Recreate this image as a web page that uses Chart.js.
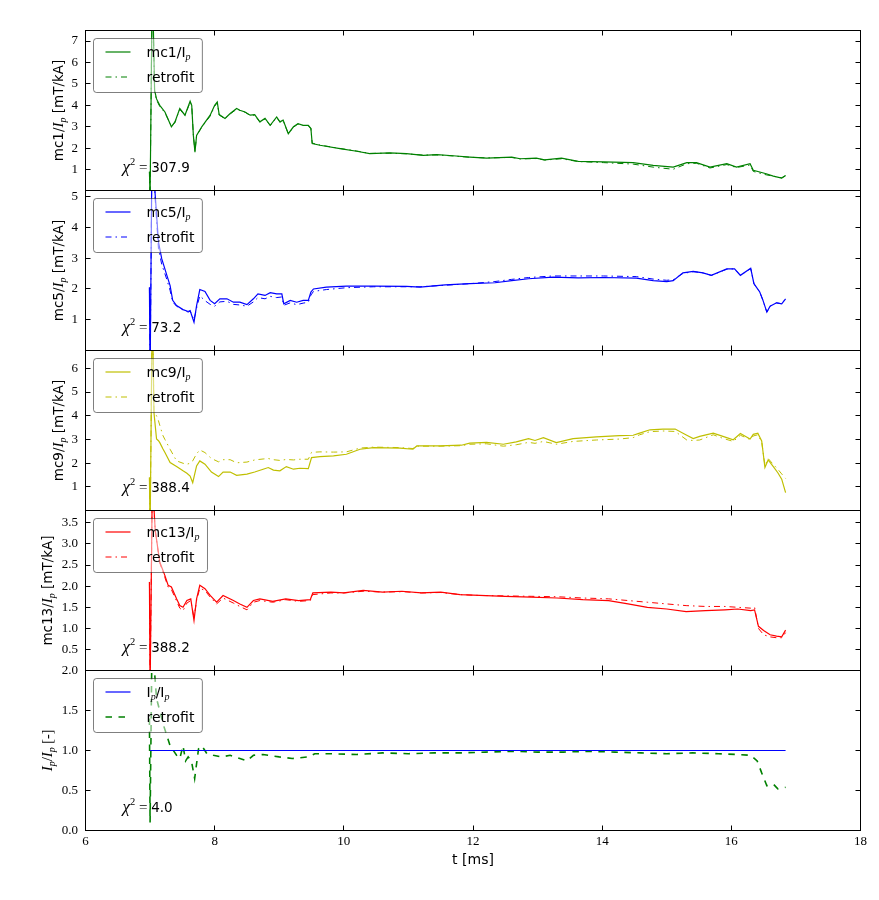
<!DOCTYPE html>
<html><head><meta charset="utf-8">
<script src="https://cdn.jsdelivr.net/npm/chart.js@4"></script>
<style>
html,body{margin:0;padding:0;background:#fff;}
body{width:879px;height:900px;position:relative;overflow:hidden;}
canvas{position:absolute;left:0;}
</style>
</head><body>
<canvas id="c0"></canvas><canvas id="c1"></canvas><canvas id="c2"></canvas><canvas id="c3"></canvas><canvas id="c4"></canvas>
<script>
// ---------------- DATA ----------------
const tTicks = [6, 8, 10, 12, 14, 16, 18];
const mc1Ticks = [1, 2, 3, 4, 5, 6, 7];
const mc5Ticks = [1, 2, 3, 4, 5];
const mc9Ticks = [1, 2, 3, 4, 5, 6];
const mc13Ticks = [0.5, 1.0, 1.5, 2.0, 2.5, 3.0, 3.5];
const ipTicks = [0.0, 0.5, 1.0, 1.5, 2.0];

const mc1T = [6.99, 7.00, 7.035, 7.07, 7.10, 7.15, 7.23, 7.33, 7.385, 7.46,
  7.54, 7.62, 7.645, 7.67, 7.695, 7.72, 7.80, 7.93, 8.00, 8.04,
  8.07, 8.16, 8.24, 8.34, 8.39, 8.47, 8.55, 8.62, 8.70, 8.78,
  8.86, 8.96, 9.01, 9.06, 9.14, 9.22, 9.29, 9.37, 9.45, 9.49,
  9.51, 9.63, 9.94, 10.20, 10.40, 10.71, 10.97, 11.23, 11.44, 11.69,
  11.95, 12.21, 12.60, 12.73, 12.98, 13.11, 13.37, 13.63, 14.02, 14.48,
  14.79, 15.10, 15.31, 15.46, 15.67, 15.93, 16.08, 16.29, 16.34, 16.54,
  16.65, 16.78, 16.84];
const mc1Meas = [0.9, -0.3, 10, 4.7, 4.3, 4.0, 3.69, 3.0, 3.23, 3.85,
  3.54, 4.19, 4.0, 2.6, 1.82, 2.6, 3.0, 3.54, 4.0, 4.16,
  3.57, 3.39, 3.62, 3.85, 3.77, 3.69, 3.54, 3.57, 3.23, 3.39,
  3.07, 3.46, 3.23, 3.31, 2.68, 3.0, 3.15, 3.07, 3.07, 2.92,
  2.22, 2.14, 1.98, 1.86, 1.75, 1.78, 1.75, 1.67, 1.70, 1.65,
  1.59, 1.54, 1.59, 1.51, 1.54, 1.46, 1.54, 1.39, 1.36, 1.33,
  1.20, 1.12, 1.33, 1.33, 1.12, 1.28, 1.12, 1.28, 0.97, 0.81,
  0.70, 0.61, 0.73];
const mc1Fit = [0.9, -0.3, 10, 4.6, 4.25, 3.95, 3.66, 3.02, 3.2, 3.82,
  3.52, 4.15, 3.98, 2.62, 1.86, 2.58, 2.98, 3.5, 3.96, 4.12,
  3.55, 3.38, 3.6, 3.82, 3.76, 3.68, 3.53, 3.55, 3.22, 3.37,
  3.06, 3.44, 3.22, 3.29, 2.68, 2.98, 3.13, 3.06, 3.05, 2.92,
  2.24, 2.15, 1.99, 1.87, 1.76, 1.77, 1.74, 1.68, 1.69, 1.64,
  1.58, 1.55, 1.57, 1.50, 1.52, 1.45, 1.51, 1.38, 1.33, 1.26,
  1.12, 1.02, 1.28, 1.30, 1.08, 1.24, 1.10, 1.22, 0.92, 0.76,
  0.70, 0.62, 0.72];

const mc5T = [6.99, 7.00, 7.035, 7.076, 7.13, 7.18, 7.26, 7.31, 7.35, 7.41,
  7.51, 7.59, 7.62, 7.68, 7.72, 7.77, 7.85, 7.93, 8.00, 8.08,
  8.19, 8.29, 8.39, 8.50, 8.60, 8.67, 8.78, 8.86, 8.96, 9.04,
  9.07, 9.17, 9.27, 9.37, 9.45, 9.49, 9.53, 9.73, 10.04, 10.46,
  10.97, 11.18, 11.57, 11.95, 12.34, 12.60, 12.86, 13.24, 13.63, 14.02,
  14.53, 14.79, 15.00, 15.10, 15.25, 15.41, 15.56, 15.69, 15.93, 16.05,
  16.14, 16.30, 16.35, 16.44, 16.49, 16.55, 16.60, 16.70, 16.78, 16.84];
const mc5Meas = [2.05, -1, 8, 5.14, 3.52, 2.98, 2.44, 2.11, 1.63, 1.46,
  1.33, 1.27, 1.30, 0.92, 1.46, 1.98, 1.92, 1.63, 1.52, 1.68,
  1.68, 1.57, 1.57, 1.49, 1.68, 1.84, 1.79, 1.88, 1.84, 1.84,
  1.52, 1.63, 1.57, 1.63, 1.63, 1.90, 2.00, 2.06, 2.09, 2.09,
  2.08, 2.06, 2.13, 2.17, 2.20, 2.27, 2.33, 2.38, 2.36, 2.37,
  2.35, 2.27, 2.24, 2.27, 2.52, 2.57, 2.52, 2.44, 2.65, 2.65,
  2.44, 2.67, 2.17, 1.90, 1.63, 1.25, 1.44, 1.55, 1.52, 1.68];
const mc5Fit = [2.05, -1, 8, 5.0, 3.3, 2.8, 2.3, 1.95, 1.58, 1.44,
  1.32, 1.25, 1.28, 1.0, 1.38, 1.78, 1.62, 1.50, 1.44, 1.58,
  1.60, 1.50, 1.48, 1.44, 1.58, 1.72, 1.68, 1.76, 1.72, 1.74,
  1.47, 1.55, 1.49, 1.54, 1.57, 1.80, 1.92, 1.98, 2.04, 2.07,
  2.07, 2.07, 2.12, 2.17, 2.24, 2.31, 2.37, 2.42, 2.42, 2.42,
  2.40, 2.32, 2.28, 2.30, 2.50, 2.56, 2.52, 2.44, 2.64, 2.65,
  2.44, 2.66, 2.17, 1.90, 1.63, 1.25, 1.44, 1.55, 1.52, 1.68];

const mc9T = [6.99, 7.00, 7.035, 7.06, 7.10, 7.13, 7.15, 7.20, 7.23, 7.31,
  7.41, 7.51, 7.57, 7.62, 7.66, 7.72, 7.77, 7.85, 7.95, 8.06,
  8.13, 8.24, 8.34, 8.50, 8.62, 8.75, 8.83, 8.91, 9.01, 9.11,
  9.22, 9.32, 9.45, 9.50, 9.63, 9.84, 10.04, 10.25, 10.46, 10.87,
  11.07, 11.13, 11.49, 11.82, 11.95, 12.21, 12.47, 12.67, 12.86, 12.96,
  13.09, 13.29, 13.55, 13.91, 14.27, 14.48, 14.58, 14.74, 14.94, 15.13,
  15.31, 15.41, 15.51, 15.72, 15.87, 16.03, 16.14, 16.29, 16.34, 16.41,
  16.47, 16.52, 16.57, 16.65, 16.72, 16.78, 16.84];
const mc9Meas = [1.4, -1, 9, 4.14, 3.02, 2.95, 2.87, 2.6, 2.45, 2.03,
  1.86, 1.68, 1.58, 1.46, 1.18, 1.89, 2.10, 1.96, 1.63, 1.44,
  1.63, 1.63, 1.49, 1.54, 1.63, 1.75, 1.82, 1.71, 1.68, 1.86,
  1.75, 1.79, 1.77, 2.24, 2.28, 2.31, 2.38, 2.59, 2.66, 2.64,
  2.59, 2.73, 2.73, 2.76, 2.85, 2.88, 2.80, 2.90, 3.04, 2.96,
  3.08, 2.87, 3.04, 3.11, 3.16, 3.18, 3.27, 3.41, 3.44, 3.44,
  3.18, 3.04, 3.13, 3.27, 3.13, 2.99, 3.25, 3.02, 3.22, 3.27,
  2.94, 1.82, 2.14, 1.86, 1.60, 1.33, 0.76];
const mc9Fit = [1.4, -1, 9, 4.2, 4.0, 3.79, 3.6, 3.16, 3.0, 2.59,
  2.10, 2.0, 1.96, 2.0, 2.10, 2.4, 2.56, 2.45, 2.2, 2.06,
  2.15, 2.15, 2.02, 2.05, 2.14, 2.18, 2.20, 2.15, 2.12, 2.16,
  2.14, 2.17, 2.17, 2.46, 2.48, 2.47, 2.48, 2.64, 2.68, 2.66,
  2.62, 2.72, 2.72, 2.74, 2.80, 2.82, 2.72, 2.78, 2.88, 2.84,
  2.92, 2.80, 2.92, 2.98, 3.02, 3.08, 3.20, 3.33, 3.36, 3.34,
  2.98, 2.96, 2.98, 3.20, 3.05, 2.92, 3.18, 3.0, 3.15, 3.2,
  2.9, 1.9, 2.2, 1.95, 1.75, 1.55, 1.36];

const mc13T = [6.99, 7.00, 7.035, 7.08, 7.15, 7.23, 7.28, 7.33, 7.41, 7.46,
  7.51, 7.57, 7.63, 7.68, 7.72, 7.77, 7.85, 7.93, 8.03, 8.13,
  8.29, 8.39, 8.50, 8.60, 8.70, 8.90, 9.10, 9.30, 9.48, 9.52,
  9.80, 10.00, 10.30, 10.60, 10.90, 11.20, 11.50, 11.80, 12.10, 12.50,
  12.90, 13.30, 13.70, 14.10, 14.40, 14.70, 15.00, 15.30, 15.60, 15.90,
  16.10, 16.30, 16.36, 16.42, 16.50, 16.60, 16.70, 16.78, 16.84];
const mc13Meas = [2.1, -0.5, 4.5, 3.32, 2.57, 2.25, 2.02, 1.98, 1.70, 1.54,
  1.50, 1.66, 1.70, 1.19, 1.70, 2.02, 1.94, 1.78, 1.62, 1.78,
  1.66, 1.58, 1.50, 1.66, 1.70, 1.64, 1.70, 1.66, 1.68, 1.84,
  1.86, 1.84, 1.90, 1.86, 1.88, 1.84, 1.86, 1.80, 1.78, 1.76,
  1.74, 1.72, 1.68, 1.66, 1.58, 1.50, 1.46, 1.40, 1.42, 1.44,
  1.46, 1.42, 1.44, 1.05, 0.95, 0.85, 0.82, 0.80, 0.96];
const mc13Fit = [2.1, -0.5, 4.5, 3.3, 2.55, 2.2, 1.98, 1.92, 1.65, 1.48,
  1.42, 1.60, 1.66, 1.25, 1.66, 1.95, 1.90, 1.74, 1.58, 1.72,
  1.60, 1.52, 1.44, 1.62, 1.66, 1.62, 1.68, 1.64, 1.66, 1.80,
  1.84, 1.84, 1.88, 1.86, 1.87, 1.84, 1.85, 1.80, 1.78, 1.77,
  1.76, 1.75, 1.72, 1.70, 1.66, 1.62, 1.58, 1.54, 1.52, 1.52,
  1.50, 1.48, 1.50, 1.00, 0.85, 0.80, 0.78, 0.78, 0.90];

const ipT = [7.00, 16.84];
const ipMeas = [1.0, 1.0];
const ipFitT = [6.99, 7.00, 7.03, 7.10, 7.21, 7.31, 7.41, 7.46, 7.51, 7.55,
  7.59, 7.64, 7.69, 7.75, 7.80, 7.88, 7.98, 8.11, 8.24, 8.39,
  8.50, 8.60, 8.75, 9.00, 9.20, 9.45, 9.55, 9.80, 10.20, 10.60,
  11.00, 11.40, 11.80, 12.20, 12.60, 13.00, 13.40, 13.80, 14.20, 14.60,
  15.00, 15.40, 15.80, 16.10, 16.30, 16.40, 16.47, 16.55, 16.65, 16.72,
  16.84];
const ipFit = [1.4, 0.1, 2.4, 1.65, 1.31, 1.06, 0.94, 0.90, 1.06, 0.87,
  0.92, 0.87, 0.65, 1.02, 1.06, 0.96, 0.94, 0.92, 0.94, 0.90,
  0.87, 0.94, 0.95, 0.92, 0.90, 0.92, 0.96, 0.96, 0.95, 0.97,
  0.96, 0.97, 0.97, 0.98, 0.99, 0.98, 0.98, 0.99, 0.98, 0.97,
  0.96, 0.97, 0.96, 0.95, 0.94, 0.87, 0.72, 0.56, 0.58, 0.52,
  0.54];

const chiValues = ['307.9', '73.2', '388.4', '388.2', '4.0'];

// ---------------- STYLE / LAYOUT ----------------
const SANS = '"DejaVu Sans", sans-serif';
const SERIF = '"Liberation Serif", "DejaVu Serif", serif';
const DASHDOT = [6, 4, 1.5, 4];
const DASHED = [6.5, 6.5];
const f = (sz, fam, st) => (st ? st + ' ' : '') + sz + 'px ' + fam;
const sub = t => ({t, f: f(10, SERIF, 'italic'), dy: 3});
const sans = (t, s) => ({t, f: f(s || 14, SANS)});
const mit = t => ({t, f: f(15, SERIF, 'italic')});

function ytitle(name) {
  return [sans(name + '/', 13.5), mit('I'), sub('p'), sans(' [mT/kA]', 13.5)];
}
function leg(name) { return [sans(name + '/I'), sub('p')]; }

const panels = [
  {series: [{t: mc1T, v: mc1Meas, c: '#008000', w: 1.2, d: []}, {t: mc1T, v: mc1Fit, c: '#008000', w: 1, d: DASHDOT}],
   min: 0.03, max: 7.49, ticks: mc1Ticks, dec: 0, legend: [leg('mc1'), [sans('retrofit')]], ytitle: ytitle('mc1'), yx: 57.5},
  {series: [{t: mc5T, v: mc5Meas, c: '#0000ff', w: 1.2, d: []}, {t: mc5T, v: mc5Fit, c: '#0000ff', w: 1, d: DASHDOT}],
   min: 0.005, max: 5.19, ticks: mc5Ticks, dec: 0, legend: [leg('mc5'), [sans('retrofit')]], ytitle: ytitle('mc5'), yx: 57.5},
  {series: [{t: mc9T, v: mc9Meas, c: '#bfbf00', w: 1.2, d: []}, {t: mc9T, v: mc9Fit, c: '#bfbf00', w: 1, d: DASHDOT}],
   min: 0.01, max: 6.75, ticks: mc9Ticks, dec: 0, legend: [leg('mc9'), [sans('retrofit')]], ytitle: ytitle('mc9'), yx: 57.5},
  {series: [{t: mc13T, v: mc13Meas, c: '#ff0000', w: 1.2, d: []}, {t: mc13T, v: mc13Fit, c: '#ff0000', w: 1, d: DASHDOT}],
   min: 0.005, max: 3.79, ticks: mc13Ticks, dec: 1, legend: [leg('mc13'), [sans('retrofit')]], ytitle: ytitle('mc13'), yx: 47},
  {series: [{t: ipT, v: ipMeas, c: '#0000ff', w: 1.2, d: []}, {t: ipFitT, v: ipFit, c: '#008000', w: 1.6, d: DASHED}],
   min: 0, max: 2, ticks: ipTicks, dec: 1,
   legend: [[sans('I'), sub('p'), sans('/I'), sub('p')], [sans('retrofit')]],
   ytitle: [mit('I'), sub('p'), {t: '/', f: f(15, SERIF)}, mit('I'), sub('p'), {t: ' [-]', f: f(14, SERIF)}], yx: 47}
];

function richW(ctx, segs) { let w = 0; for (const s of segs) { ctx.font = s.f; w += ctx.measureText(s.t).width; } return w; }
function drawRich(ctx, x, y, segs) {
  let cx = x;
  for (const s of segs) { ctx.font = s.f; ctx.fillText(s.t, cx, y + (s.dy || 0)); cx += ctx.measureText(s.t).width; }
}

function makePlugin(p, idx, last) {
  return {
    id: 'panel' + idx,
    afterDatasetsDraw(chart) {
      const ctx = chart.ctx, a = chart.chartArea, xs = chart.scales.x, ys = chart.scales.y;
      ctx.save();
      ctx.setLineDash([]);
      ctx.strokeStyle = '#000'; ctx.lineWidth = 1;
      ctx.strokeRect(a.left, a.top, a.right - a.left, a.bottom - a.top);
      ctx.beginPath();
      for (const tk of xs.ticks) {
        const x = Math.floor(xs.getPixelForValue(tk.value)) + 0.5;
        ctx.moveTo(x, a.bottom); ctx.lineTo(x, a.bottom - 5);
        ctx.moveTo(x, a.top); ctx.lineTo(x, a.top + 5);
      }
      for (const tk of ys.ticks) {
        const y = Math.floor(ys.getPixelForValue(tk.value)) + 0.5;
        ctx.moveTo(a.left, y); ctx.lineTo(a.left + 5, y);
        ctx.moveTo(a.right, y); ctx.lineTo(a.right - 5, y);
      }
      ctx.stroke();

      // legend
      ctx.fillStyle = '#000'; ctx.textAlign = 'left'; ctx.textBaseline = 'alphabetic';
      const tw = Math.max(richW(ctx, p.legend[0]), richW(ctx, p.legend[1]));
      const lx = a.left + 8, ly = a.top + 8, lw = 53 + tw + 8, lh = 54, r = 3;
      ctx.beginPath();
      ctx.moveTo(lx + r, ly); ctx.lineTo(lx + lw - r, ly); ctx.arcTo(lx + lw, ly, lx + lw, ly + r, r);
      ctx.lineTo(lx + lw, ly + lh - r); ctx.arcTo(lx + lw, ly + lh, lx + lw - r, ly + lh, r);
      ctx.lineTo(lx + r, ly + lh); ctx.arcTo(lx, ly + lh, lx, ly + lh - r, r);
      ctx.lineTo(lx, ly + r); ctx.arcTo(lx, ly, lx + r, ly, r); ctx.closePath();
      ctx.fillStyle = 'rgba(255,255,255,0.5)'; ctx.fill();
      ctx.strokeStyle = 'rgba(0,0,0,0.5)'; ctx.stroke();
      for (let j = 0; j < 2; j++) {
        const s = p.series[j], cy = ly + 13.5 + 25 * j;
        ctx.beginPath(); ctx.strokeStyle = s.c; ctx.lineWidth = s.w; ctx.setLineDash(s.d);
        ctx.moveTo(lx + 12, cy); ctx.lineTo(lx + 37, cy); ctx.stroke();
        ctx.setLineDash([]);
        ctx.fillStyle = '#000';
        drawRich(ctx, lx + 53, cy + 5, p.legend[j]);
      }

      // chi^2
      ctx.fillStyle = '#000';
      drawRich(ctx, a.left + 37, a.bottom - 19,
        [{t: '\u03c7', f: f(17, SERIF, 'italic')}, {t: '2', f: f(10.5, SERIF), dy: -7}, {t: ' = ', f: f(15, SERIF)}, {t: chiValues[idx], f: f(13.5, SANS)}]);

      // y title
      ctx.save();
      ctx.translate(p.yx, (a.top + a.bottom) / 2);
      ctx.rotate(-Math.PI / 2);
      const w = richW(ctx, p.ytitle);
      drawRich(ctx, -w / 2, 5, p.ytitle);
      ctx.restore();

      if (last) {
        ctx.font = f(14, SANS); ctx.textAlign = 'center';
        ctx.fillText('t [ms]', (a.left + a.right) / 2, a.bottom + 33);
      }
      ctx.restore();
    }
  };
}

const PADT = 20.5, PADB = 19.5, PANEL_H = 160, FIRST_TOP = 30.5, XAXIS_H = 69.5;
panels.forEach((p, i) => {
  const last = i === panels.length - 1;
  const cv = document.getElementById('c' + i);
  const H = PADT + PANEL_H + (last ? XAXIS_H : PADB);
  cv.width = 879; cv.height = H;
  cv.style.width = '879px'; cv.style.height = H + 'px';
  cv.style.top = (FIRST_TOP - PADT + PANEL_H * i) + 'px';
  const datasets = p.series.map(s => ({
    data: s.t.map((x, k) => ({x: x, y: s.v[k]})),
    borderColor: s.c, borderWidth: s.w, borderDash: s.d,
    pointRadius: 0, tension: 0, fill: false, clip: 0
  }));
  new Chart(cv, {
    type: 'line',
    data: {datasets},
    options: {
      responsive: false, animation: false, devicePixelRatio: 1,
      layout: {padding: {left: 0, right: 18.5, top: PADT, bottom: last ? 0 : PADB}},
      plugins: {legend: {display: false}, tooltip: {enabled: false}, title: {display: false}},
      scales: {
        x: {
          type: 'linear', min: 6, max: 18,
          afterBuildTicks: s => { s.ticks = tTicks.map(v => ({value: v})); },
          afterFit: s => { s.height = last ? XAXIS_H : 0; },
          ticks: {display: last, color: '#000', font: {family: SERIF, size: 13}, padding: 3, maxRotation: 0,
                  callback: v => String(v)},
          grid: {display: false, drawTicks: false}, border: {display: false}
        },
        y: {
          type: 'linear', min: p.min, max: p.max,
          afterBuildTicks: s => { s.ticks = p.ticks.map(v => ({value: v})); },
          afterFit: s => { s.width = 85.5; },
          ticks: {color: '#000', font: {family: SERIF, size: 13}, padding: 7.5,
                  callback: v => v.toFixed(p.dec)},
          grid: {display: false, drawTicks: false}, border: {display: false}
        }
      }
    },
    plugins: [makePlugin(p, i, last)]
  });
});
</script>
</body></html>
